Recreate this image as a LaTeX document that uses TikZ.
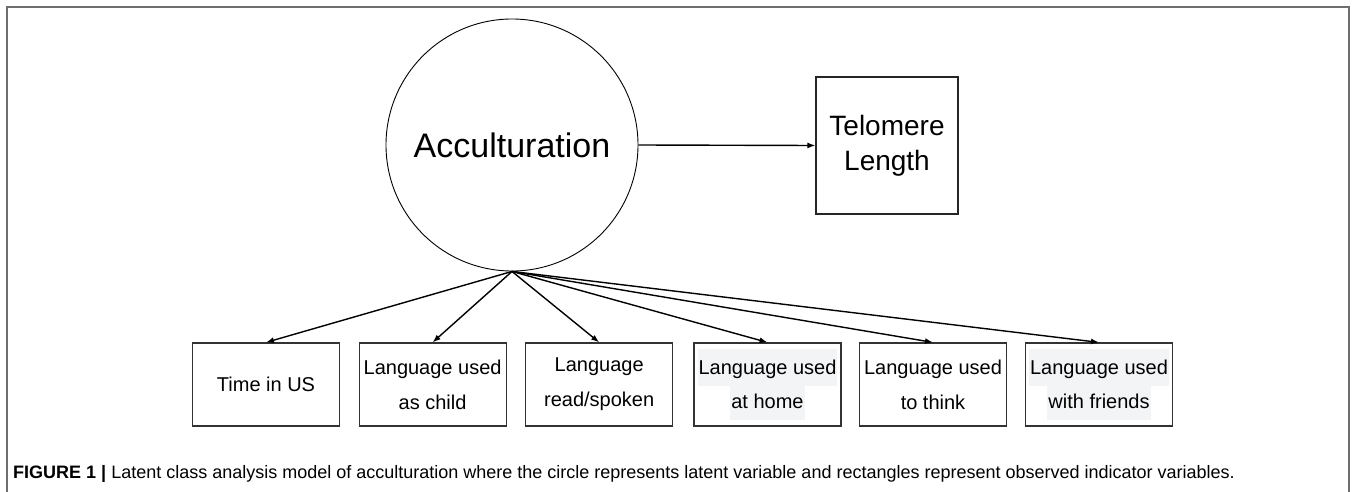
\documentclass[tikz,border=0pt]{standalone}
\usepackage{fontspec}
\setmainfont{Liberation Sans}
\usetikzlibrary{arrows.meta}
\definecolor{framegray}{HTML}{6E6E6E}
\definecolor{hlgray}{HTML}{F3F4F6}
\newcommand{\hl}[1]{{\setlength{\fboxsep}{1pt}\colorbox{hlgray}{\strut #1}}}
\begin{document}
\begin{tikzpicture}[x=1pt,y=-1pt,
  frame/.style={draw=framegray, line width=1.5pt},
  latent/.style={circle, draw, line width=0.9pt, minimum size=252pt, inner sep=0pt,
    font=\fontsize{34}{40}\selectfont},
  outcome/.style={rectangle, draw=black!85, line width=1.2pt, minimum width=142pt,
    minimum height=137pt, inner sep=0pt, align=center, font=\fontsize{28}{35}\selectfont},
  indicator/.style={rectangle, draw=black!80, line width=1.2pt, minimum width=147pt,
    minimum height=83pt, inner sep=0pt, align=center, font=\fontsize{20}{35}\selectfont},
  path/.style={draw, line width=1.4pt, -{Latex[length=8pt,width=6pt]}},
  caption/.style={anchor=base west, inner sep=0pt, font=\fontsize{18}{22}\selectfont}]
  \useasboundingbox (0,0) rectangle (1357,492);
  \fill[white] (0,0) rectangle (1357,492);
  % open frame around the figure
  \draw[frame] (7,492) -- (7,7) -- (1349,7) -- (1349,492);

  % latent variable and outcome
  \node[latent] (acc) at (512,145) {Acculturation};
  \node[outcome] (tel) at (887,145.5) {Telomere\\Length};

  % observed indicators
  \node[indicator] (i1) at (266,384.5) {Time in US};
  \node[indicator] (i2) at (432.6,384.5) {Language used\\as child};
  \node[indicator] (i3) at (599.2,384.5) {Language\\read/spoken};
  \node[indicator] (i4) at (767.5,384.5) {\hl{Language used}\\[-4pt]\hl{at home}};
  \node[indicator] (i5) at (933,384.5) {Language used\\to think};
  \node[indicator] (i6) at (1099,384.5) {\hl{Language used}\\[-4pt]\hl{with friends}};

  % paths
  \draw[path] (acc.east) -- (tel.west);
  \foreach \k in {1,...,6} {
    \draw[path] (acc.south) -- (i\k.north);
  }

  % caption
  \node[caption] (cap) at (13,478) {\textbf{FIGURE 1 |} Latent class analysis model of acculturation where the circle represents latent variable and rectangles represent observed indicator variables.};
\end{tikzpicture}
\end{document}
